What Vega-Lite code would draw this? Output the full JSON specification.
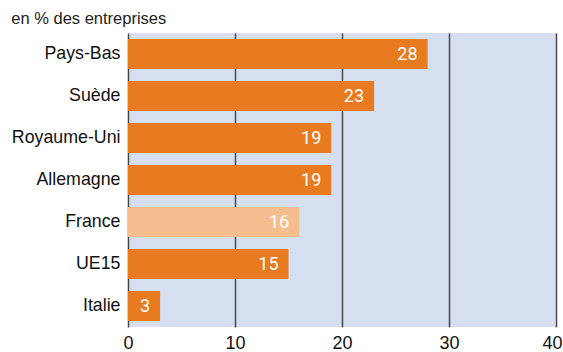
{
  "$schema": "https://vega.github.io/schema/vega-lite/v6.json",
  "width": 428,
  "height": 294,
  "autosize": {"type": "none"},
  "padding": {"left": 128, "top": 33, "right": 7, "bottom": 25},
  "background": "white",
  "title": {
    "text": "en % des entreprises",
    "anchor": "start",
    "frame": "bounds",
    "font": "Liberation Sans",
    "fontSize": 16.5,
    "fontWeight": "normal",
    "color": "#222",
    "offset": 6
  },
  "config": {
    "view": {"fill": "#d5dff0", "stroke": null}
  },
  "data": {
    "values": [
      {"pays": "Pays-Bas", "valeur": 28, "highlight": "no"},
      {"pays": "Suède", "valeur": 23, "highlight": "no"},
      {"pays": "Royaume-Uni", "valeur": 19, "highlight": "no"},
      {"pays": "Allemagne", "valeur": 19, "highlight": "no"},
      {"pays": "France", "valeur": 16, "highlight": "yes"},
      {"pays": "UE15", "valeur": 15, "highlight": "no"},
      {"pays": "Italie", "valeur": 3, "highlight": "no"}
    ]
  },
  "encoding": {
    "y": {
      "field": "pays",
      "type": "nominal",
      "sort": null,
      "scale": {"paddingInner": 0.28, "paddingOuter": 0.14},
      "axis": {"title": null, "ticks": false, "domain": false, "labelFont": "Liberation Sans", "labelColor": "#111", "labelFontSize": 17.8, "labelPadding": 8}
    },
    "x": {
      "field": "valeur",
      "type": "quantitative",
      "scale": {"domain": [0, 40], "nice": false},
      "axis": {
        "title": null,
        "values": [0, 10, 20, 30, 40],
        "ticks": false,
        "domain": false,
        "grid": true,
        "gridColor": "#4a4a4a",
        "gridWidth": 1.5,
        "gridOpacity": 1,
        "labelFont": "Liberation Sans",
        "labelColor": "#111",
        "labelFontSize": 18,
        "labelPadding": 7,
        "labelFlush": false,
        "labelOffset": {"expr": "datum.value == 40 ? -4 : 0"}
      }
    }
  },
  "layer": [
    {
      "mark": {"type": "bar"},
      "encoding": {
        "color": {
          "field": "highlight",
          "type": "nominal",
          "scale": {"domain": ["no", "yes"], "range": ["#e87b1f", "#f4be8f"]},
          "legend": null
        }
      }
    },
    {
      "mark": {"type": "text", "align": "right", "baseline": "middle", "dx": -10, "dy": 1, "color": "white", "fontSize": 18, "font": "Roboto"},
      "encoding": {"text": {"field": "valeur", "type": "quantitative"}}
    }
  ]
}
